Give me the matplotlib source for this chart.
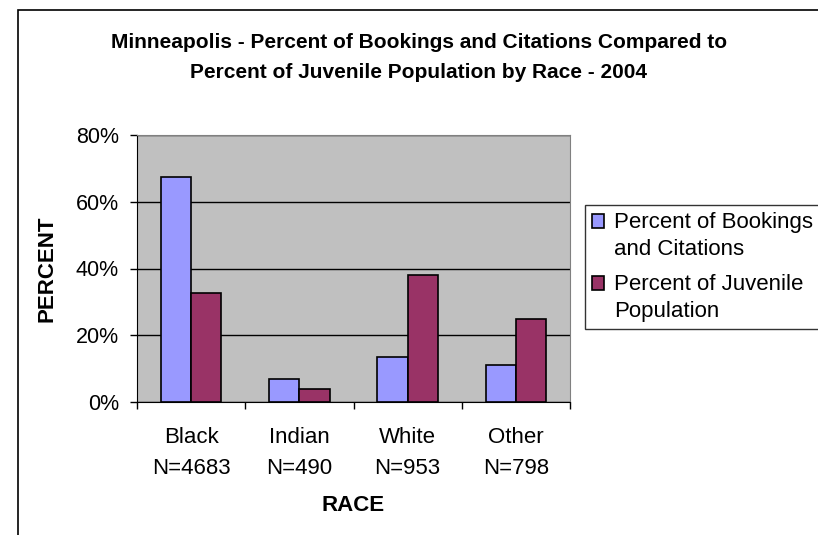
import numpy as np
import matplotlib.pyplot as plt
from matplotlib.patches import Rectangle
from matplotlib.container import BarContainer
from matplotlib.legend_handler import HandlerPatch

plt.rcParams['font.family'] = ['Liberation Sans', 'DejaVu Sans']

races = ['Black\nN=4683', 'Indian\nN=490', 'White\nN=953', 'Other\nN=798']
bookings = [67.4, 6.9, 13.5, 11.2]
juvenile = [32.6, 3.9, 38.2, 24.8]
series_names = ['Percent of Bookings\nand Citations', 'Percent of Juvenile\nPopulation']

fig = plt.figure(figsize=(8.18, 5.35), dpi=100)
ax = fig.add_axes([137 / 818, 133 / 535, 433 / 818, 267 / 535])

# outer chart border (cut off at the right and bottom like the source)
fig.patches.append(Rectangle((18 / 818, -0.1), 1.0, (535 - 10) / 535 + 0.1,
                             transform=fig.transFigure, fill=False,
                             edgecolor='black', lw=1.2))

x = np.arange(len(races))
w = 0.28
ax.bar(x - w / 2, bookings, w, color='#9999FF', edgecolor='black', lw=1.2,
       label=series_names[0], zorder=3)
ax.bar(x + w / 2, juvenile, w, color='#993366', edgecolor='black', lw=1.2,
       label=series_names[1], zorder=3)

ax.set_facecolor('#C0C0C0')
ax.set_xlim(-0.5, len(races) - 0.5)
ax.set_ylim(0, 80)
ax.set_yticks([0, 20, 40, 60, 80])
ax.set_yticklabels(['0%', '20%', '40%', '60%', '80%'], fontsize=15.5)
ax.yaxis.grid(True, color='black', lw=1, zorder=1)
ax.set_axisbelow(True)

ax.set_xticks(x)
ax.set_xticklabels(races, fontsize=16, linespacing=1.6)
ax.set_xticks(np.arange(-0.5, len(races)), minor=True)
ax.tick_params(axis='x', which='major', length=0, pad=18)
ax.tick_params(axis='x', which='minor', length=5, width=1, direction='out')
ax.tick_params(axis='y', length=5, width=1, direction='out', pad=8)

for side in ['top', 'right']:
    ax.spines[side].set_color('#808080')
ax.spines['left'].set_color('black')
ax.spines['bottom'].set_color('black')

ax.set_xlabel('RACE', fontsize=16, fontweight='bold', labelpad=12)
ax.set_ylabel('PERCENT', fontsize=16, fontweight='bold', labelpad=13)

fig.text(0.512, 0.8925, 'Minneapolis - Percent of Bookings and Citations Compared to\n'
         'Percent of Juvenile Population by Race - 2004',
         ha='center', va='center', fontsize=15, fontweight='bold', linespacing=1.72)


def top_square(legend, orig_handle, xdescent, ydescent, width, height, fontsize):
    # put the legend square next to the first line of a two-line label
    return Rectangle((-xdescent, -ydescent + 0.68 * fontsize), width, height)


def first_bar_style(legend_handle, orig_handle):
    legend_handle.update_from(orig_handle.patches[0])


leg = fig.legend(loc='upper left', bbox_to_anchor=(585 / 818, 1 - 205 / 535),
                 fontsize=16, frameon=True, fancybox=False, handlelength=0.55,
                 handleheight=0.55, handletextpad=0.45, borderaxespad=0,
                 labelspacing=0.6, borderpad=0.3,
                 handler_map={BarContainer: HandlerPatch(patch_func=top_square,
                                                         update_func=first_bar_style)})
leg.get_frame().set_edgecolor('black')
leg.get_frame().set_linewidth(1)
for t in leg.get_texts():
    t.set_linespacing(1.42)

fig.savefig('out.png', dpi=100)
